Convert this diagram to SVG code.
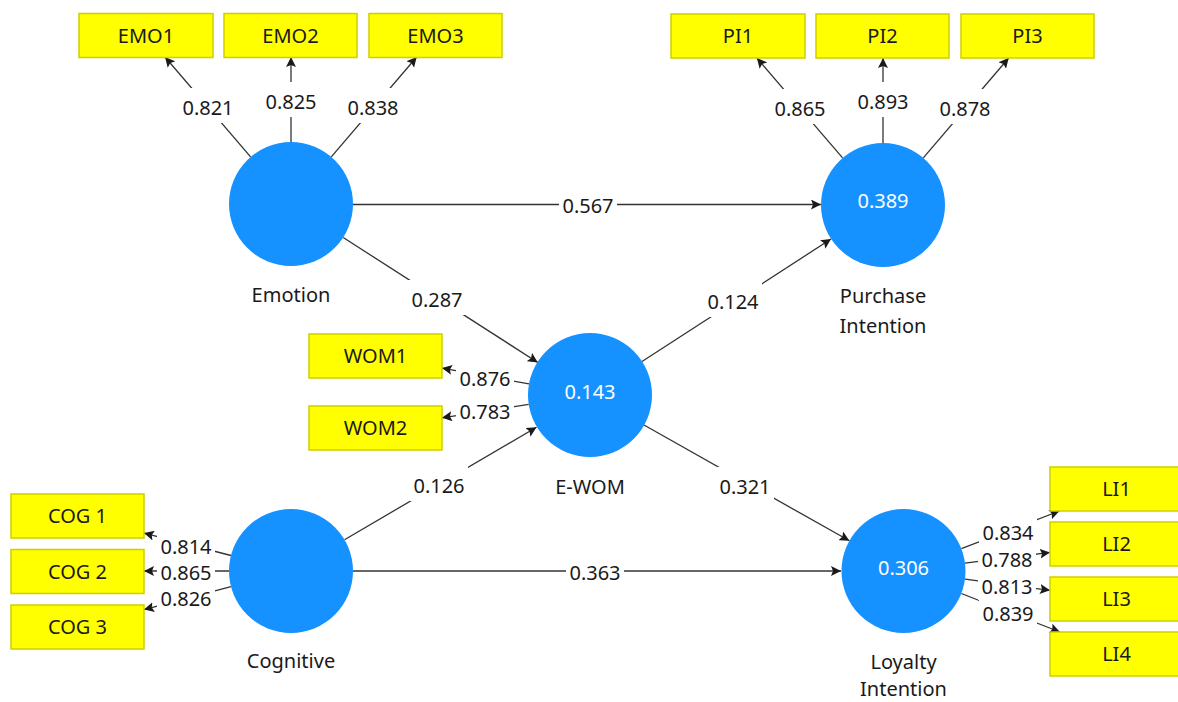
<svg xmlns="http://www.w3.org/2000/svg" width="1178" height="702" viewBox="0 0 1178 702">
<defs>
<style>
.ln{stroke:#333;stroke-width:1.3;fill:none}
.ar{marker-end:url(#ah)}
.box{fill:#FFFF00;stroke:#CFCF00;stroke-width:1.5}
.lv{fill:#1592FF}
.t{font-family:"Noto Sans","Open Sans","DejaVu Sans",sans-serif;font-size:20px;fill:#1a1a1a;text-anchor:middle}
.w{fill:#ffffff}
.bg{fill:#ffffff}
</style>
<marker id="ah" viewBox="0 0 10 10" refX="10" refY="5" markerWidth="10" markerHeight="10" markerUnits="userSpaceOnUse" orient="auto">
<path d="M0,0 L10,5 L0,10 L2,5 z" fill="#1a1a1a"/>
</marker>
</defs>
<rect width="1178" height="702" fill="#ffffff"/>

<g id="connectors">
<!-- outer loadings -->
<line class="ln ar" x1="250.6" y1="156.9" x2="165" y2="57"/>
<line class="ln ar" x1="291" y1="142" x2="291" y2="57"/>
<line class="ln ar" x1="331.3" y1="156.9" x2="416.7" y2="57"/>
<line class="ln ar" x1="842.6" y1="157.9" x2="756.9" y2="58"/>
<line class="ln ar" x1="883" y1="143" x2="883" y2="58"/>
<line class="ln ar" x1="923.3" y1="157.9" x2="1008.7" y2="58"/>
<line class="ln ar" x1="529" y1="383.9" x2="442" y2="368.1"/>
<line class="ln ar" x1="528.7" y1="404.4" x2="442" y2="417.8"/>
<line class="ln ar" x1="231" y1="555.5" x2="144" y2="533.1"/>
<line class="ln ar" x1="229" y1="571" x2="144" y2="571"/>
<line class="ln ar" x1="231" y1="586.7" x2="144" y2="609.6"/>
<line class="ln ar" x1="961.4" y1="548.7" x2="1059.4" y2="511"/>
<line class="ln ar" x1="965" y1="563.2" x2="1050" y2="552.4"/>
<line class="ln ar" x1="965" y1="579.1" x2="1050" y2="590.3"/>
<line class="ln ar" x1="961.3" y1="593.5" x2="1059.9" y2="632"/>
<!-- structural paths -->
<line class="ln ar" x1="353" y1="204.5" x2="821" y2="204.5"/>
<line class="ln ar" x1="343.2" y1="237.5" x2="537.8" y2="362.5"/>
<line class="ln ar" x1="642" y1="361.5" x2="831" y2="239"/>
<line class="ln ar" x1="344.5" y1="539.7" x2="536.5" y2="427.3"/>
<line class="ln ar" x1="644" y1="425" x2="849.4" y2="540.8"/>
<line class="ln ar" x1="353" y1="571" x2="841" y2="571"/>

<g id="labels">
<rect class="bg" x="179" y="88" width="58" height="35"/>
<rect class="bg" x="262" y="82" width="58" height="35"/>
<rect class="bg" x="344" y="88" width="58" height="35"/>
<rect class="bg" x="771" y="89" width="58" height="35"/>
<rect class="bg" x="854" y="82" width="58" height="35"/>
<rect class="bg" x="936" y="89" width="58" height="35"/>
<rect class="bg" x="559" y="186" width="58" height="35"/>
<rect class="bg" x="408" y="280" width="58" height="35"/>
<rect class="bg" x="704" y="282" width="58" height="35"/>
<rect class="bg" x="456" y="364" width="58" height="28"/>
<rect class="bg" x="456" y="397" width="58" height="28"/>
<rect class="bg" x="410" y="466" width="58" height="35"/>
<rect class="bg" x="716" y="467" width="58" height="35"/>
<rect class="bg" x="157" y="532" width="58" height="28"/>
<rect class="bg" x="157" y="558" width="58" height="28"/>
<rect class="bg" x="157" y="584" width="58" height="28"/>
<rect class="bg" x="566" y="553" width="58" height="35"/>
<rect class="bg" x="979" y="518" width="58" height="28"/>
<rect class="bg" x="978" y="545" width="58" height="28"/>
<rect class="bg" x="978" y="572" width="58" height="28"/>
<rect class="bg" x="979" y="599" width="58" height="28"/>
<text class="t" x="208" y="115">0.821</text>
<text class="t" x="291" y="109">0.825</text>
<text class="t" x="373" y="115">0.838</text>
<text class="t" x="800" y="116">0.865</text>
<text class="t" x="883" y="109">0.893</text>
<text class="t" x="965" y="116">0.878</text>
<text class="t" x="588" y="213">0.567</text>
<text class="t" x="437" y="307">0.287</text>
<text class="t" x="733" y="309">0.124</text>
<text class="t" x="485" y="386">0.876</text>
<text class="t" x="485" y="419">0.783</text>
<text class="t" x="439" y="493">0.126</text>
<text class="t" x="745" y="494">0.321</text>
<text class="t" x="186" y="554">0.814</text>
<text class="t" x="186" y="580">0.865</text>
<text class="t" x="186" y="606">0.826</text>
<text class="t" x="595" y="580">0.363</text>
<text class="t" x="1008" y="540">0.834</text>
<text class="t" x="1007" y="567">0.788</text>
<text class="t" x="1007" y="594">0.813</text>
<text class="t" x="1008" y="621">0.839</text>
</g>
</g>

<g id="emotion"><circle class="lv" cx="291" cy="204" r="62"/><text class="t" x="291" y="302">Emotion</text></g>
<g id="purchase-intention"><circle class="lv" cx="883" cy="205" r="62"/><text class="t w" x="883" y="208">0.389</text><text class="t" x="883" y="303">Purchase</text><text class="t" x="883" y="333">Intention</text></g>
<g id="e-wom"><circle class="lv" cx="590" cy="395" r="62"/><text class="t w" x="590" y="399">0.143</text><text class="t" x="590" y="494">E-WOM</text></g>
<g id="cognitive"><circle class="lv" cx="291" cy="571" r="62"/><text class="t" x="291" y="668">Cognitive</text></g>
<g id="loyalty-intention"><circle class="lv" cx="903.5" cy="571" r="62"/><text class="t w" x="903.5" y="575">0.306</text><text class="t" x="903.5" y="669">Loyalty</text><text class="t" x="903.5" y="696">Intention</text></g>

<g id="EMO1"><rect class="box" x="79" y="13.5" width="134" height="44"/><text class="t" x="146" y="42.5">EMO1</text></g>
<g id="EMO2"><rect class="box" x="224" y="13.5" width="133" height="44"/><text class="t" x="290.5" y="42.5">EMO2</text></g>
<g id="EMO3"><rect class="box" x="369" y="13.5" width="133" height="44"/><text class="t" x="435.5" y="42.5">EMO3</text></g>
<g id="PI1"><rect class="box" x="671" y="14" width="134" height="44"/><text class="t" x="738" y="43">PI1</text></g>
<g id="PI2"><rect class="box" x="816" y="14" width="133" height="44"/><text class="t" x="882.5" y="43">PI2</text></g>
<g id="PI3"><rect class="box" x="961" y="14" width="133" height="44"/><text class="t" x="1027.5" y="43">PI3</text></g>
<g id="WOM1"><rect class="box" x="309" y="334" width="133" height="44"/><text class="t" x="375.5" y="363">WOM1</text></g>
<g id="WOM2"><rect class="box" x="309" y="406" width="133" height="44"/><text class="t" x="375.5" y="435">WOM2</text></g>
<g id="COG1"><rect class="box" x="11" y="494" width="133" height="44"/><text class="t" x="77.5" y="523">COG 1</text></g>
<g id="COG2"><rect class="box" x="11" y="549.5" width="133" height="44"/><text class="t" x="77.5" y="578.5">COG 2</text></g>
<g id="COG3"><rect class="box" x="11" y="605" width="133" height="44"/><text class="t" x="77.5" y="634">COG 3</text></g>
<g id="LI1"><rect class="box" x="1050" y="467" width="133" height="44"/><text class="t" x="1116.5" y="496">LI1</text></g>
<g id="LI2"><rect class="box" x="1050" y="522" width="133" height="44"/><text class="t" x="1116.5" y="551">LI2</text></g>
<g id="LI3"><rect class="box" x="1050" y="577" width="133" height="44"/><text class="t" x="1116.5" y="606">LI3</text></g>
<g id="LI4"><rect class="box" x="1050" y="632" width="133" height="44"/><text class="t" x="1116.5" y="661">LI4</text></g>
</svg>
